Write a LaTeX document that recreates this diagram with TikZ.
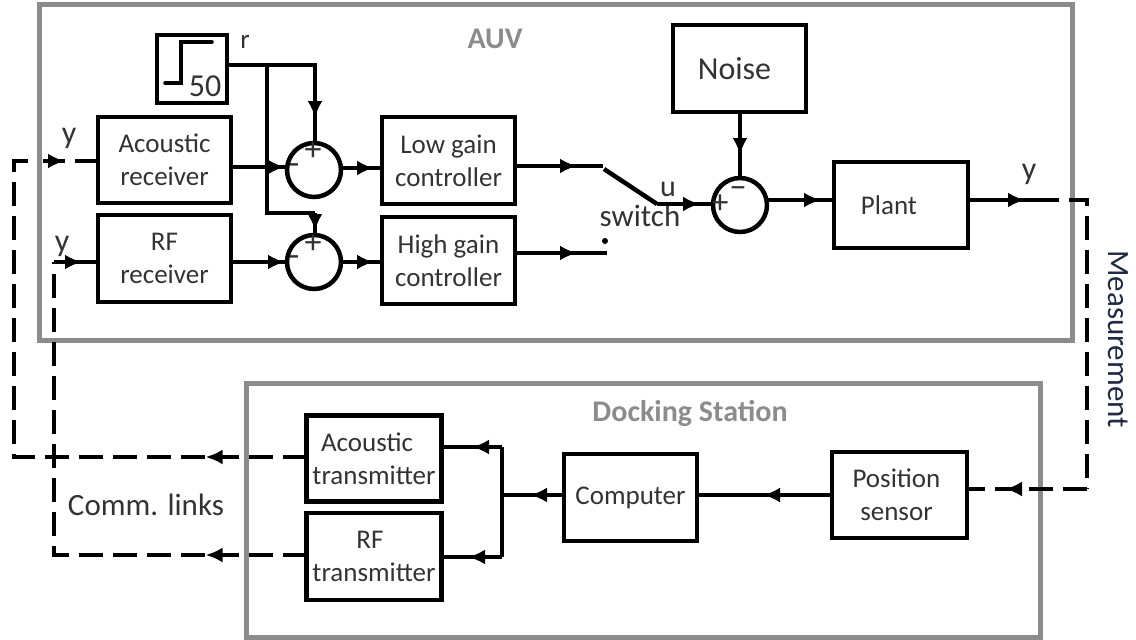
\documentclass[tikz,border=0pt]{standalone}
\usepackage{fontspec}
\setmainfont{Carlito}
\usetikzlibrary{arrows.meta,decorations.markings}
\definecolor{frameg}{HTML}{8C8C8C}
\definecolor{txt}{HTML}{333333}
\definecolor{meascol}{HTML}{1F2A44}
\tikzset{
  blk/.style={draw=black,line width=4.5pt,minimum width=133pt,minimum height=86pt,inner sep=0pt,outer sep=0pt,align=center,text=txt,font=\fontsize{27}{33}\selectfont},
  frm/.style={draw=frameg,line width=5pt,minimum width=0pt,inner sep=0pt},
  sumc/.style={circle,draw=black,line width=4.5pt,minimum size=54pt,inner sep=0pt,outer sep=0pt},
  lbl/.style={text=txt,inner sep=0pt,font=\fontsize{27}{30}\selectfont},
  ttl/.style={text=frameg,inner sep=0pt,font=\fontsize{30}{34}\selectfont\bfseries},
  sgn/.style={text=txt,inner sep=0pt,font=\fontsize{34}{34}\selectfont},
  wire/.style={draw=black,line width=4.5pt,line cap=butt,line join=miter},
  dwire/.style={wire,dash pattern=on 24pt off 10pt},
  tipat/.style={postaction={decorate,decoration={markings,mark=at position #1 with {\arrow{Latex[length=17pt,width=15pt]}}}}},
}
\begin{document}
\begin{tikzpicture}[x=1pt,y=-1pt]
\useasboundingbox (0,0) rectangle (1136,640);
\fill[white] (0,0) rectangle (1136,640);
% frames
\node[frm,minimum width=1033pt,minimum height=336pt] (auv) at (555.5,172) {};
\node[frm,minimum width=794pt,minimum height=254pt] (dock) at (643,510) {};
\node[ttl] (auvt) at (495,39) {AUV};
\node[ttl] (dockt) at (690,413) {Docking Station};
% blocks
\node[blk,minimum width=70pt,minimum height=68pt] (step) at (192,69) {};
\node[blk] (arx) at (164.5,160) {Acoustic\\receiver};
\node[blk,minimum height=87pt] (rrx) at (164.5,258.5) {RF\\receiver};
\node[blk,minimum height=87pt] (low) at (448.5,160.5) {Low gain\\controller};
\node[blk,minimum height=87pt] (high) at (448.5,260.5) {High gain\\controller};
\node[blk,font=\fontsize{32}{36}\selectfont,minimum height=87pt] (noise) at (739.5,68.5) {\hspace*{-10pt}Noise};
\node[blk,font=\fontsize{27}{32}\selectfont,minimum width=134pt] (plant) at (901,205) {\hspace*{-24pt}Plant};
\node[blk,minimum width=135pt] (atx) at (374,458.5) {\hspace*{-14pt}Acoustic\\transmitter};
\node[blk,minimum width=135pt,minimum height=87pt] (rtx) at (374,556.5) {\hspace*{-8pt}RF\\transmitter};
\node[blk,minimum height=87pt] (comp) at (630.5,497.5) {Computer};
\node[blk,minimum width=135pt] (pos) at (899.5,495) {\hspace*{-6pt}Position\\\hspace*{-6pt}sensor};
% summing junctions
\node[sumc] (s1) at (314,170) {};
\node[sumc] (s2) at (314,262) {};
\node[sumc] (s3) at (740,205) {};
\node[sgn] (p1) at (313,151) {+};
\node[sgn] (m1) at (294,169) {-};
\node[sgn] (p2) at (313,244) {+};
\node[sgn] (m2) at (294,261) {-};
\node[sgn] (p3) at (720,204) {+};
\node[sgn] (m3) at (738,193) {−};
% step icon
\draw[line width=3.5pt,line cap=round] (165,83) -- (181,83) -- (181,42) -- (212,42);
\node[text=txt,inner sep=0pt,font=\fontsize{32}{34}\selectfont] (fifty) at (205,86) {50};
% labels
\node[lbl] (rl) at (245,42) {r};
\node[lbl,font=\fontsize{32}{34}\selectfont] (y1) at (69,138) {y};
\node[lbl,font=\fontsize{32}{34}\selectfont] (y2) at (62,246) {y};
\node[lbl,font=\fontsize{32}{34}\selectfont] (y3) at (1029,174) {y};
\node[lbl,font=\fontsize{30}{34}\selectfont] (ul) at (668,189) {u};
\node[lbl,font=\fontsize{31}{34}\selectfont] (sw) at (640,216) {switch};
\node[lbl,font=\fontsize{31}{34}\selectfont] (comm) at (146,505) {Comm. links};
\node[lbl,text=meascol,font=\fontsize{31}{34}\selectfont,rotate=-90] (meas) at (1118,339) {Measurement};
% junction coordinates
\coordinate (jr) at (267,65);
\coordinate (jrd) at (267,213);
\coordinate (jrt) at (315,213);
\coordinate (jr1) at (315,65);
\coordinate (swa) at (603,166);
\coordinate (swb) at (604,169);
\coordinate (swc) at (657,204);
\coordinate (swh) at (607,253);
\coordinate (yout) at (1035,200);
\coordinate (yc) at (1087,200);
\coordinate (yd) at (1087,489);
\coordinate (bus) at (502,495);
\coordinate (busa) at (502,447);
\coordinate (busr) at (502,557);
\coordinate (la1) at (14,457);
\coordinate (la2) at (14,161);
\coordinate (la3) at (33,161);
\coordinate (la4) at (43,161);
\coordinate (la5) at (65,161);
\coordinate (la6) at (75,161);
\coordinate (lr1) at (54,555);
\coordinate (lr2) at (54,262);
% AUV wires
\draw[wire,tipat=141pt] (step.east |- jr) -- (jr1) -- (jr1 |- s1.north);
\draw[wire] (jr) -- (jrd) -- (jrt);
\draw[wire,tipat=18pt] (jrt) -- (jrt |- s2.north);
\draw[wire,tipat=54pt] (arx.east |- 0,167) -- (s1.west |- 0,167);
\draw[wire,tipat=54pt] (rrx.east |- s2.center) -- (s2.west);
\draw[wire,tipat=33pt] (s1.east |- 0,168) -- (low.west |- 0,168);
\draw[wire,tipat=33pt] (s2.east) -- (high.west |- s2.east);
\draw[wire,tipat=62pt] (low.east |- swa) -- (swa);
\draw[wire,tipat=62pt] (high.east |- swh) -- (swh);
\draw[wire,tipat=43pt] (swc) -- (s3.west |- swc);
\draw[wire] (swb) -- (swc);
\fill (605,241) circle (3pt);
\draw[wire,tipat=43pt] (noise.south -| s3.north) -- (s3.north);
\draw[wire,tipat=54pt] (s3.east |- yout) -- (plant.west |- yout);
% measurement
\draw[wire,tipat=57pt] (plant.east |- yout) -- (yout);
\draw[dwire] (yout) -- (yc) -- (yd);
\draw[dwire,tipat=82pt] (yd) -- (yd -| pos.east);
% docking wires
\draw[wire,tipat=69pt] (pos.west |- bus) -- (comp.east |- bus);
\draw[wire,tipat=34pt] (comp.west |- bus) -- (bus);
\draw[wire] (busa) -- (busr);
\draw[wire,tipat=30pt] (busa) -- (busa -| atx.east);
\draw[wire,tipat=34pt] (busr) -- (busr -| rtx.east);
% communication links
\draw[dwire,tipat=101pt] (atx.west |- la1) -- (la1) -- (la2) -- (la3);
\draw[wire,tipat=22pt] (la4) -- (la5);
\draw[wire] (la6) -- (arx.west |- la6);
\draw[dwire,tipat=101pt] (rtx.west |- lr1) -- (lr1) -- (lr2);
\draw[wire,tipat=28pt] (lr2) -- (rrx.west |- lr2);
\end{tikzpicture}
\end{document}
